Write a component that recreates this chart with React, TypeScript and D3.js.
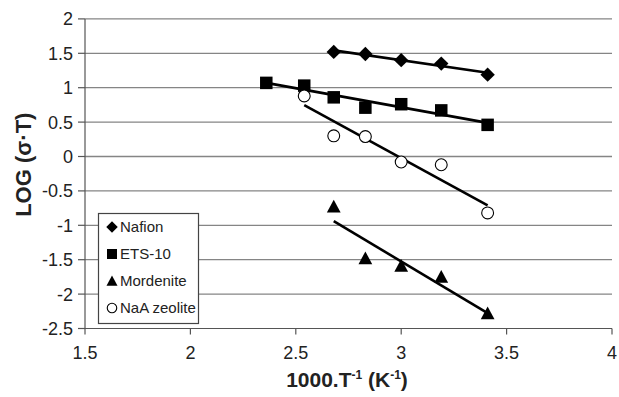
import React from "react";
import * as d3 from "d3";

const seriesNames = ["Nafion", "ETS-10", "Mordenite", "NaA zeolite"];
const nafionX = [2.68, 2.83, 3.0, 3.19, 3.41];
const nafionY = [1.52, 1.49, 1.4, 1.35, 1.19];
const etsX = [2.36, 2.54, 2.68, 2.83, 3.0, 3.19, 3.41];
const etsY = [1.07, 1.03, 0.86, 0.71, 0.76, 0.67, 0.46];
const mordX = [2.68, 2.83, 3.0, 3.19, 3.41];
const mordY = [-0.73, -1.48, -1.59, -1.75, -2.28];
const naaX = [2.54, 2.68, 2.83, 3.0, 3.19, 3.41];
const naaY = [0.88, 0.3, 0.29, -0.08, -0.12, -0.82];
const xTicks = [1.5, 2, 2.5, 3, 3.5, 4];
const yTicks = [2, 1.5, 1, 0.5, 0, -0.5, -1, -1.5, -2, -2.5];

const W = 619;
const H = 397;
const FONT = "'Liberation Sans', Arial, sans-serif";
const x = d3.scaleLinear().domain([1.5, 4]).range([85, 612]);
const y = d3.scaleLinear().domain([-2.5, 2]).range([328.5, 18.9]);

type Shape = "diamond" | "square" | "triangle" | "circle";
const shapes: Shape[] = ["diamond", "square", "triangle", "circle"];
const data = [
  { xs: nafionX, ys: nafionY },
  { xs: etsX, ys: etsY },
  { xs: mordX, ys: mordY },
  { xs: naaX, ys: naaY },
];

function regress(xs: number[], ys: number[]) {
  const mx = d3.mean(xs)!;
  const my = d3.mean(ys)!;
  let sxy = 0, sxx = 0;
  xs.forEach((v, i) => {
    sxy += (v - mx) * (ys[i] - my);
    sxx += (v - mx) * (v - mx);
  });
  const b = sxy / sxx;
  const a = my - b * mx;
  const x0 = d3.min(xs)!;
  const x1 = d3.max(xs)!;
  return [
    [x0, a + b * x0],
    [x1, a + b * x1],
  ] as [number, number][];
}

function Marker({ shape, cx, cy, s }: { shape: Shape; cx: number; cy: number; s: number }) {
  const h = s / 2;
  if (shape === "diamond") {
    const d = h * 1.15;
    return <path d={`M${cx},${cy - d}L${cx + d},${cy}L${cx},${cy + d}L${cx - d},${cy}Z`} fill="#000" />;
  }
  if (shape === "square") {
    return <rect x={cx - h} y={cy - h} width={s} height={s} fill="#000" />;
  }
  if (shape === "triangle") {
    const t = h * 1.1;
    return <path d={`M${cx},${cy - t}L${cx + t},${cy + t * 0.85}L${cx - t},${cy + t * 0.85}Z`} fill="#000" />;
  }
  return <circle cx={cx} cy={cy} r={h * 0.95} fill="#fff" stroke="#000" strokeWidth={1.1} />;
}

export default function App() {
  const line = d3.line<[number, number]>().x((d) => x(d[0])).y((d) => y(d[1]));
  return (
    <svg width={W} height={H} style={{ position: "absolute", left: 0, top: 0, background: "#fff" }} fontFamily={FONT}>
      <rect width={W} height={H} fill="#fff" />
      {yTicks.map((t) => (
        <g key={`y${t}`}>
          {t !== -2.5 && (
            <line x1={x(1.5)} x2={x(4)} y1={y(t)} y2={y(t)} stroke="#858585" strokeWidth={1.3} />
          )}
          <line x1={x(1.5) - 7} x2={x(1.5)} y1={y(t)} y2={y(t)} stroke="#555" strokeWidth={1.2} />
          <text x={73} y={y(t)} dy="0.36em" textAnchor="end" fontSize={18} fill="#222">
            {t}
          </text>
        </g>
      ))}
      <line x1={x(1.5)} x2={x(1.5)} y1={y(2)} y2={y(-2.5)} stroke="#555" strokeWidth={1.2} />
      <line x1={x(1.5)} x2={x(4)} y1={y(-2.5)} y2={y(-2.5)} stroke="#555" strokeWidth={1.2} />
      {xTicks.map((t) => (
        <g key={`x${t}`}>
          <line x1={x(t)} x2={x(t)} y1={y(-2.5)} y2={y(-2.5) + 6} stroke="#555" strokeWidth={1.2} />
          <text x={x(t)} y={359} textAnchor="middle" fontSize={18} fill="#222">
            {t}
          </text>
        </g>
      ))}
      {data.map((s, i) => (
        <path key={`l${i}`} d={line(regress(s.xs, s.ys))!} stroke="#000" strokeWidth={2.6} fill="none" />
      ))}
      {data.map((s, i) =>
        s.xs.map((v, j) => (
          <Marker key={`m${i}-${j}`} shape={shapes[i]} cx={x(v)} cy={y(s.ys[j])} s={12.5} />
        ))
      )}
      <g>
        <rect x={98.5} y={213.5} width={100} height={110} fill="#fff" stroke="#444" strokeWidth={1.2} />
        {seriesNames.map((n, i) => {
          const cy = 227 + i * 27;
          return (
            <g key={n}>
              <Marker shape={shapes[i]} cx={112} cy={cy} s={10} />
              <text x={120} y={cy} dy="0.36em" fontSize={15} fill="#222">
                {n}
              </text>
            </g>
          );
        })}
      </g>
      <text
        transform={`translate(31,${(y(2) + y(-2.5)) / 2 - 9}) rotate(-90)`}
        textAnchor="middle"
        fontSize={22}
        fontWeight="bold"
        fill="#222"
      >
        LOG (σ·T)
      </text>
      <text x={347} y={386.5} textAnchor="middle" fontSize={21} fontWeight="bold" fill="#222">
        1000.T
        <tspan dy={-8} fontSize={12}>-1</tspan>
        <tspan dy={8}> (K</tspan>
        <tspan dy={-8} fontSize={12}>-1</tspan>
        <tspan dy={8}>)</tspan>
      </text>
    </svg>
  );
}
